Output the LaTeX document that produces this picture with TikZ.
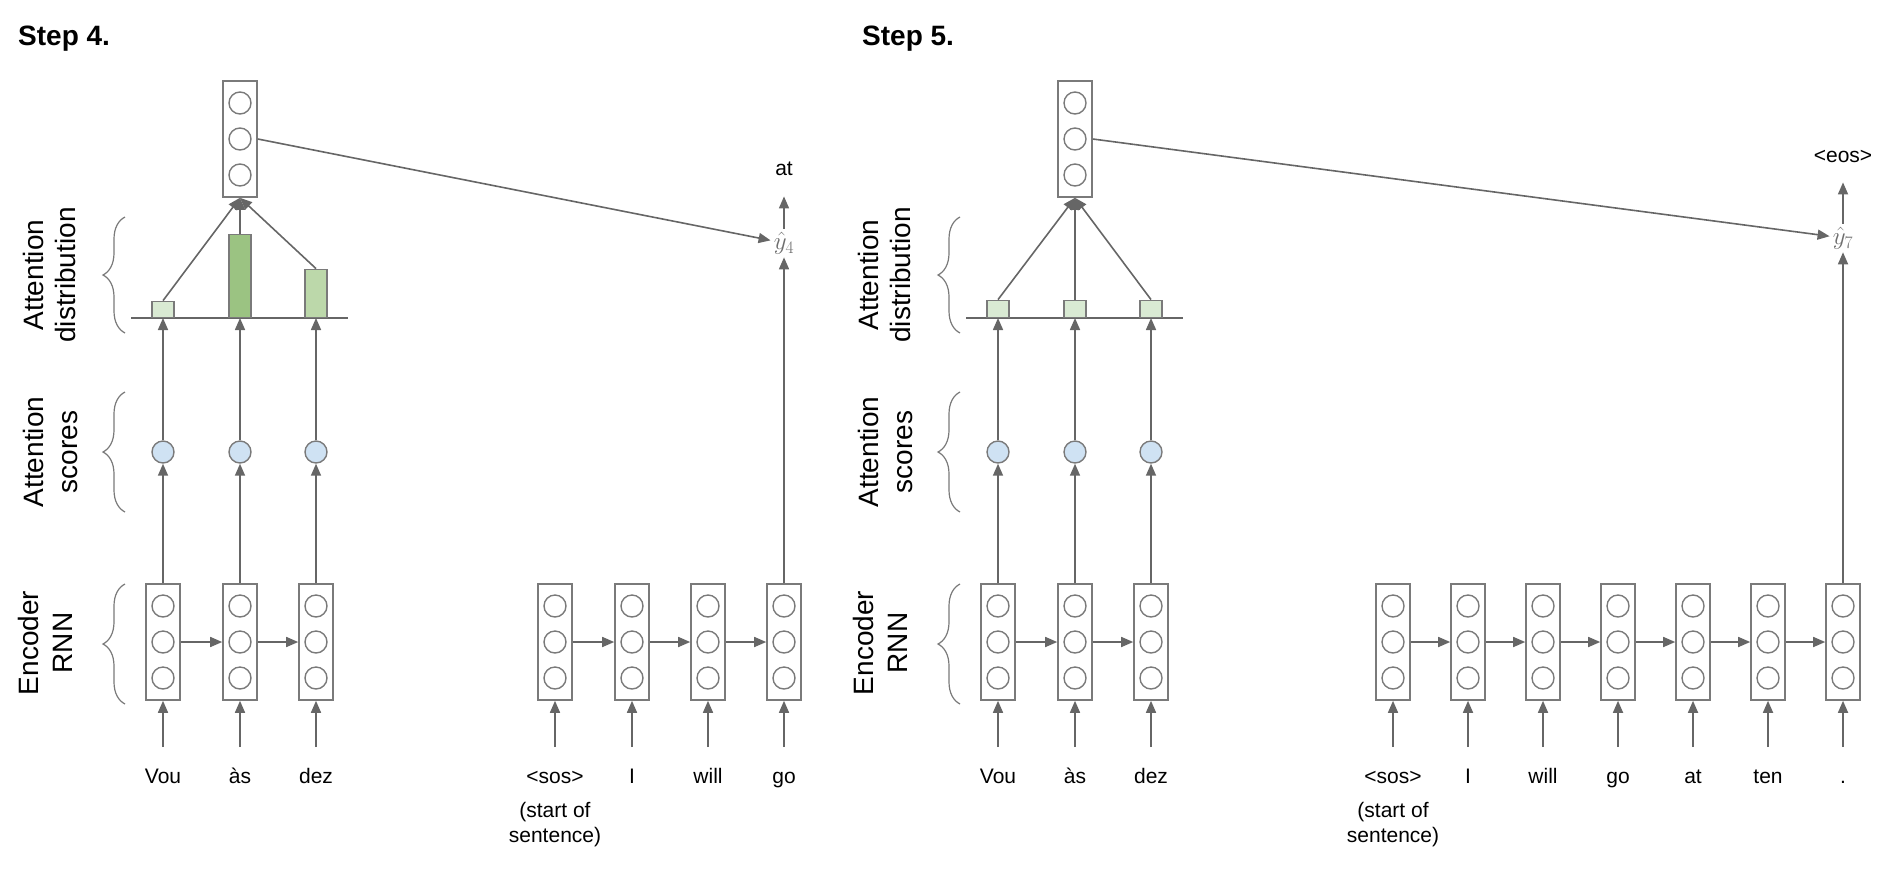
\RequirePackage{fix-cm}
\documentclass[tikz,border=0pt]{standalone}
\usepackage{fontspec}
\setmainfont{Liberation Sans}
\usetikzlibrary{arrows.meta,decorations.pathreplacing}
\definecolor{ln}{HTML}{666666}
\definecolor{bx}{HTML}{7A7A7A}
\definecolor{gA}{HTML}{D9EAD3}
\definecolor{gB}{HTML}{9BC382}
\definecolor{gC}{HTML}{BCD8AA}
\definecolor{bl}{HTML}{CFE2F3}
\definecolor{yh}{HTML}{6E6E6E}
\tikzset{
  cellbox/.style={draw=bx, line width=1.6pt, minimum width=34pt, minimum height=116pt, inner sep=0pt},
  unit/.style={circle, draw=bx, line width=1.4pt, minimum size=22pt, inner sep=0pt},
  score/.style={circle, draw=bx, fill=bl, line width=1.4pt, minimum size=22pt, inner sep=0pt},
  arr/.style={draw=ln, line width=1.6pt, -{Triangle[length=12pt,width=10pt]}},
  baseln/.style={draw=ln, line width=1.6pt},
  bar/.style={draw=bx, line width=1.4pt, minimum width=22pt, inner sep=0pt, anchor=south},
  word/.style={font=\fontsize{21}{25}\selectfont, anchor=base, inner sep=2pt},
  lbl/.style={font=\fontsize{28}{34}\selectfont, rotate=90, anchor=base, inner sep=0pt},
  brc/.style={decorate, decoration={brace, amplitude=22pt}, draw=bx, line width=1.2pt},
  steplbl/.style={font=\fontsize{28}{34}\selectfont\bfseries, anchor=base west, inner sep=0pt},
  yhatn/.style={text=yh, font=\fontsize{25}{30}\selectfont, inner sep=3pt},
}
\newcommand\rnncell[3]{%
  \node[cellbox] (#1) at (#2,#3) {};
  \node[unit] (#1-1) at (#2,#3-36) {};
  \node[unit] (#1-2) at (#2,#3) {};
  \node[unit] (#1-3) at (#2,#3+36) {};
}
% #1 prefix, #2 x shift, #3-#5 bar heights, #6-#8 bar fills
\newcommand\attnpart[8]{%
  \begin{scope}[xshift=#2pt]
    \rnncell{#1c}{240}{139}
    \coordinate (#1L) at (131,318);
    \coordinate (#1R) at (348,318);
    \draw[baseln] (#1L) -- (#1R);
    \node[bar, fill=#6, minimum height=#3pt] (#1b1) at (163,318) {};
    \node[bar, fill=#7, minimum height=#4pt] (#1b2) at (240,318) {};
    \node[bar, fill=#8, minimum height=#5pt] (#1b3) at (316,318) {};
    \node[score] (#1s1) at (163,452) {};
    \node[score] (#1s2) at (240,452) {};
    \node[score] (#1s3) at (316,452) {};
    \rnncell{#1e1}{163}{642}
    \rnncell{#1e2}{240}{642}
    \rnncell{#1e3}{316}{642}
    \coordinate (#1i1) at (163,747);
    \coordinate (#1i2) at (240,747);
    \coordinate (#1i3) at (316,747);
    \node[word] (#1w1) at (163,783) {Vou};
    \node[word] (#1w2) at (240,783) {às};
    \node[word] (#1w3) at (316,783) {dez};
    \foreach \k in {1,2,3} {
      \draw[arr] (#1i\k) -- (#1e\k.south);
      \draw[arr] (#1e\k.north) -- (#1s\k.south);
      \draw[arr] (#1s\k.north) -- (#1b\k.south);
      \draw[arr] (#1b\k.north) -- (#1c.south);
    }
    \draw[arr] (#1e1.east) -- (#1e2.west);
    \draw[arr] (#1e2.east) -- (#1e3.west);
    \coordinate (#1r1a) at (125,333);
    \coordinate (#1r1b) at (125,217);
    \coordinate (#1r2a) at (125,512);
    \coordinate (#1r2b) at (125,392);
    \coordinate (#1r3a) at (125,704);
    \coordinate (#1r3b) at (125,584);
    \draw[brc] (#1r1a) -- (#1r1b);
    \draw[brc] (#1r2a) -- (#1r2b);
    \draw[brc] (#1r3a) -- (#1r3b);
    \node[lbl] (#1l1) at (43,275) {Attention};
    \node[lbl] (#1l2) at (75,275) {distribution};
    \node[lbl] (#1l3) at (43,452) {Attention};
    \node[lbl] (#1l4) at (77,452) {scores};
    \node[lbl] (#1l5) at (38,643) {Encoder};
    \node[lbl] (#1l6) at (72,643) {RNN};
  \end{scope}
}
\begin{document}
\begin{tikzpicture}[x=1pt, y=-1pt]
\useasboundingbox (0,0) rectangle (1886,868);

% ---------------- Step 4 ----------------
\node[steplbl] (st4) at (18,45) {Step 4.};
\attnpart{p}{0}{16}{83}{48}{gA}{gB}{gC}
\foreach \k/\x/\w in {1/555/{<sos>},2/632/{I},3/708/{will},4/784/{go}} {
  \rnncell{pd\k}{\x}{642}
  \coordinate (pin\k) at (\x,747);
  \node[word] (pdw\k) at (\x,783) {\w};
  \draw[arr] (pin\k) -- (pd\k.south);
}
\foreach \a/\b in {1/2,2/3,3/4} \draw[arr] (pd\a.east) -- (pd\b.west);
\node[word] (pso1) at (555,817) {(start of};
\node[word] (pso2) at (555,842) {sentence)};
\node[yhatn] (yh4) at (784,243) {$\hat{y}_4$};
\node[word] (out4) at (784,175) {at};
\draw[arr] (pc.east) -- (yh4);
\draw[arr] (pd4.north) -- (yh4.south);
\draw[arr, shorten >=19pt] (yh4.north) -- (out4.south);

% ---------------- Step 5 ----------------
\node[steplbl] (st5) at (862,45) {Step 5.};
\attnpart{q}{835}{17}{17}{17}{gA}{gA}{gA}
\foreach \k/\x/\w in {1/1393/{<sos>},2/1468/{I},3/1543/{will},4/1618/{go},5/1693/{at},6/1768/{ten},7/1843/{.}} {
  \rnncell{qd\k}{\x}{642}
  \coordinate (qin\k) at (\x,747);
  \node[word] (qdw\k) at (\x,783) {\w};
  \draw[arr] (qin\k) -- (qd\k.south);
}
\foreach \a/\b in {1/2,2/3,3/4,4/5,5/6,6/7} \draw[arr] (qd\a.east) -- (qd\b.west);
\node[word] (qso1) at (1393,817) {(start of};
\node[word] (qso2) at (1393,842) {sentence)};
\node[yhatn] (yh7) at (1843,238) {$\hat{y}_7$};
\node[word] (out7) at (1843,162) {<eos>};
\draw[arr] (qc.east) -- (yh7);
\draw[arr] (qd7.north) -- (yh7.south);
\draw[arr, shorten >=18pt] (yh7.north) -- (out7.south);
\end{tikzpicture}
\end{document}
